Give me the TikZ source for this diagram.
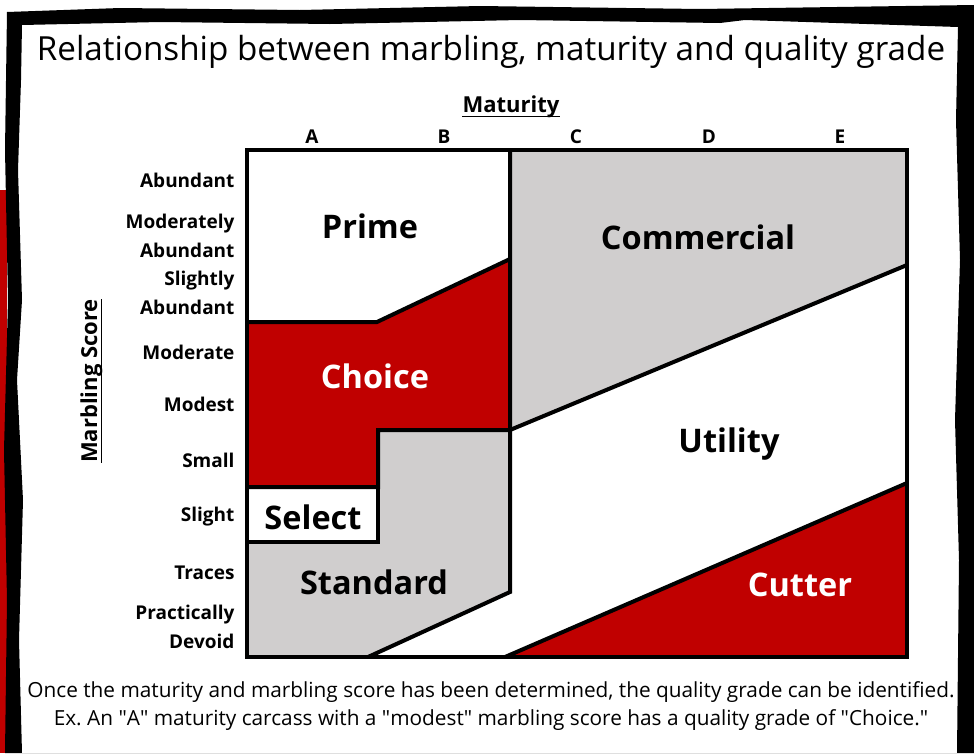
\documentclass[tikz,border=0pt]{standalone}
\usepackage{fontspec}
\setmainfont{Open Sans}
\usepackage{tikz}

\definecolor{gradered}{RGB}{192,0,0}
\definecolor{gradegray}{RGB}{208,206,206}

\begin{document}
\begin{tikzpicture}[x=1pt, y=-1pt,
        scorelabel/.style={anchor=east, font=\fontsize{19}{29}\selectfont\bfseries, align=right},
        gradelabel/.style={font=\fontsize{32.5}{38}\selectfont\bfseries},
        matlabel/.style={font=\fontsize{19}{22}\selectfont\bfseries},
        axislabel/.style={font=\fontsize{22}{26}\selectfont\bfseries, inner xsep=0pt, anchor=base}
    ]
        \useasboundingbox (0,0) rectangle (974,753);

        % rough frame
        \fill[gradered] (0,190) -- (7,190) -- (7,753) -- (0,753) -- cycle;
        \fill[black, even odd rule]
            (7,12) -- (120,8) -- (300,10) -- (480,6) -- (700,9) -- (974,5) -- (974,753)
            -- (5,753) -- (7,600) -- (4,450) -- (8,300) -- (5,150) -- cycle
            (22,25) -- (160,22) -- (330,24) -- (520,20) -- (720,23) -- (745,20) -- (958,27)
            -- (956,120) -- (960,260) -- (955,420) -- (959,560) -- (957,753)
            -- (22,753) -- (19,640) -- (23,500) -- (17,380) -- (22,300) -- (18,170) -- (21,80) -- cycle;

        \coordinate (tl) at (247,150);
        \coordinate (tr) at (907,150);
        \coordinate (br) at (907,657);
        \coordinate (bl) at (247,657);
        \coordinate (mt) at (510,150);
        \coordinate (pc1) at (247,322);
        \coordinate (pc2) at (377,322);
        \coordinate (pc3) at (510,259);
        \coordinate (st1) at (378,430);
        \coordinate (st2) at (510,430);
        \coordinate (se1) at (247,487);
        \coordinate (se2) at (378,487);
        \coordinate (se3) at (378,542);
        \coordinate (se4) at (247,542);
        \coordinate (sd1) at (510,592);
        \coordinate (sd2) at (368,657);
        \coordinate (cm1) at (907,265);
        \coordinate (cu1) at (505,657);
        \coordinate (cu2) at (907,483);

        \begin{scope}[line width=4pt, line join=miter]
            \fill[white] (tl) rectangle (br);
            \fill[gradered] (pc1) -- (pc2) -- (pc3) -- (st2) -- (st1) -- (se2) -- (se1) -- cycle;
            \fill[gradegray] (se4) -- (se3) -- (st1) -- (st2) -- (sd1) -- (sd2) -- (bl) -- cycle;
            \fill[gradegray] (mt) -- (tr) -- (cm1) -- (st2) -- cycle;
            \fill[gradered] (cu1) -- (cu2) -- (br) -- cycle;

            \draw (pc1) -- (pc2) -- (pc3);
            \draw (se1) -- (se2) -- (st1) -- (st2) -- (cm1);
            \draw (se4) -- (se3) -- (se2);
            \draw (mt) -- (sd1) -- (sd2);
            \draw (cu1) -- (cu2);
            \draw (tl) rectangle (br);
        \end{scope}

        \node (title) at (491,52) {\fontsize{33.2}{38}\selectfont Relationship between marbling, maturity and quality grade};

        \node[axislabel] (maturity) at (511,112) {Maturity};
        \draw[line width=1.6pt] ([yshift=-4.5pt]maturity.base west) -- ([yshift=-4.5pt]maturity.base east);
        \node[axislabel, rotate=90] (marbling) at (97,381) {Marbling Score};
        \draw[line width=1.6pt] ([xshift=4.5pt]marbling.base west) -- ([xshift=4.5pt]marbling.base east);

        \node[matlabel] (matA) at (312,137) {A};
        \node[matlabel] (matB) at (444,137) {B};
        \node[matlabel] (matC) at (576,137) {C};
        \node[matlabel] (matD) at (709,137) {D};
        \node[matlabel] (matE) at (840,137) {E};

        \node[scorelabel] (abundant) at (238,180) {Abundant};
        \node[scorelabel] (modabundant) at (238,236) {Moderately\\Abundant};
        \node[scorelabel] (slabundant) at (238,293) {Slightly\\Abundant};
        \node[scorelabel] (moderate) at (238,352) {Moderate};
        \node[scorelabel] (modest) at (238,404) {Modest};
        \node[scorelabel] (small) at (238,460) {Small};
        \node[scorelabel] (slight) at (238,517) {Slight};
        \node[scorelabel] (traces) at (238,573) {Traces};
        \node[scorelabel] (devoid) at (238,627) {Practically\\Devoid};

        \node[gradelabel] (prime) at (370,226) {Prime};
        \node[gradelabel, text=white] (choice) at (375,376) {Choice};
        \node[gradelabel] (select) at (313,517) {Select};
        \node[gradelabel] (standard) at (374,582) {Standard};
        \node[gradelabel] (commercial) at (698,237) {Commercial};
        \node[gradelabel] (utility) at (729,444) {Utility};
        \node[gradelabel, text=white] (cutter) at (800,585) {Cutter};

        \node[align=center, font=\fontsize{20.8}{28}\selectfont] (note) at (491,706)
            {Once the maturity and marbling score has been determined, the quality grade can be identified.\\
             Ex.\ An \textquotedbl A\textquotedbl{} maturity carcass with a \textquotedbl modest\textquotedbl{} marbling score has a quality grade of \textquotedbl Choice.\textquotedbl};
    \end{tikzpicture}
\end{document}
